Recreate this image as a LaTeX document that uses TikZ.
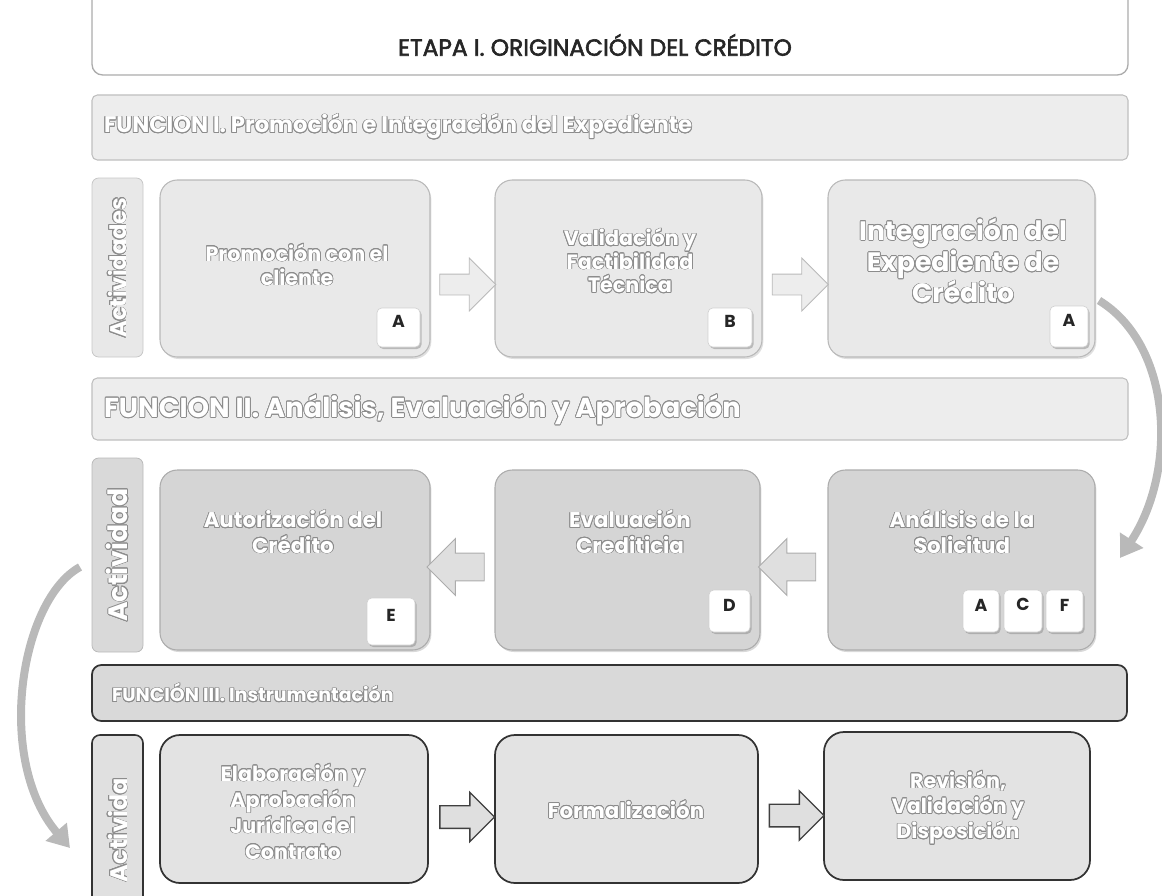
\documentclass[tikz,border=0pt]{standalone}
\usepackage{fontspec}
\setmainfont{Poppins}
\newfontfamily\titlefont{Poppins}[FakeBold=2.5]
\usepackage[copies]{contour}
\contourlength{0.55pt}
\contournumber{16}
\usetikzlibrary{shapes.arrows,shadows,calc,arrows.meta,fit}
\newcommand{\wt}[1]{\contour{black!45}{#1}}
\begin{document}
\begin{tikzpicture}[x=0.75pt,y=-0.75pt,
  every node/.style={inner sep=0pt, outer sep=0pt},
  titlebox/.style={draw=gray!65, line width=1pt, rounded corners=8pt, fill=white},
  bandlight/.style={draw=gray!50, line width=0.8pt, fill=gray!14, rounded corners=4pt},
  banddark/.style={draw=black!80, line width=1.3pt, fill=gray!30, rounded corners=7pt},
  rowone/.style={draw=gray!55, line width=0.8pt, fill=gray!17, rounded corners=13pt,
    drop shadow={shadow xshift=1pt, shadow yshift=-1.5pt, opacity=0.25}},
  rowtwo/.style={draw=gray!65, line width=0.8pt, fill=gray!33, rounded corners=13pt,
    drop shadow={shadow xshift=1pt, shadow yshift=-1.5pt, opacity=0.3}},
  rowthree/.style={draw=black!80, line width=1.3pt, fill=gray!22, rounded corners=15pt},
  labone/.style={draw=gray!45, line width=0.6pt, fill=gray!18, rounded corners=5pt},
  labtwo/.style={draw=gray!55, line width=0.6pt, fill=gray!30, rounded corners=5pt},
  labthree/.style={draw=black!80, line width=1.2pt, fill=gray!24, rounded corners=6pt},
  badge/.style={draw=gray!35, line width=0.5pt, fill=white, rounded corners=3.5pt,
    drop shadow={shadow xshift=1.2pt, shadow yshift=-1.5pt, opacity=0.45},
    font=\bfseries\fontsize{13}{13}\selectfont, text=black!85},
  wtext/.style={text=white, align=center},
  arrowone/.style={single arrow, draw=gray!55, fill=gray!14, line width=0.6pt,
    single arrow head extend=12pt, inner sep=7.5pt, minimum height=42pt},
  arrowtwo/.style={single arrow, draw=gray!65, fill=gray!25, line width=0.7pt,
    single arrow head extend=11pt, inner sep=10pt, minimum height=43pt, shape border rotate=180},
  arrowthree/.style={single arrow, draw=black!75, fill=gray!25, line width=1pt,
    single arrow head extend=10pt, inner sep=8pt, minimum height=41pt},
  curvearrow/.style={line width=6pt, draw=gray!55, -{Triangle[length=16pt,width=20pt]}}
]
\useasboundingbox (0,0) rectangle (1162,895);
\clip (0,0) rectangle (1162,895);

% title
\node[titlebox, fit={(92,-20) (1128,75)}] (tbox) {};
\node[font=\titlefont\fontsize{17.5}{17.5}\selectfont, text=black!85] (title) at (595,45) {ETAPA I. ORIGINACIÓN DEL CRÉDITO};

% ---------- Function I ----------
\node[bandlight, fit={(92,95) (1128,160)}] (band1) {};
\node[wtext, anchor=west, font=\bfseries\fontsize{17}{17}\selectfont] (band1t) at (104,127)
  {\wt{FUNCION I. Promoción e Integración del Expediente}};

\node[labone, fit={(92,178) (143,357)}] (lab1) {};
\node[wtext, rotate=90, font=\bfseries\fontsize{17}{17}\selectfont] (lab1t) at (lab1.center) {\wt{Actividades}};

\node[rowone, fit={(160,180) (430,357)}] (b1) {};
\node[wtext, font=\bfseries\fontsize{15.5}{18}\selectfont] (b1t) at (297,265) {\wt{Promoción con el}\\\wt{cliente}};
\node[badge, fit={(377,308) (420,347)}] (b1a) {A};

\node[rowone, fit={(495,180) (762,357)}] (b2) {};
\node[wtext, font=\bfseries\fontsize{15.5}{17.5}\selectfont] (b2t) at (630,261) {\wt{Validación y}\\\wt{Factibilidad}\\\wt{Técnica}};
\node[badge, fit={(708,308) (752,347)}] (b2a) {B};

\node[rowone, fit={(828,180) (1095,357)}] (b3) {};
\node[wtext, font=\bfseries\fontsize{20}{23.5}\selectfont] (b3t) at (963,261) {\wt{Integración del}\\\wt{Expediente de}\\\wt{Crédito}};
\node[badge, fit={(1050,306) (1088,347)}] (b3a) {A};

\node[arrowone] (a1) at ($(b1.east)!0.5!(b2.west)+(0,16)$) {};
\node[arrowone] (a2) at ($(b2.east)!0.5!(b3.west)+(0,16)$) {};

% ---------- Function II ----------
\node[bandlight, fit={(92,378) (1128,440)}] (band2) {};
\node[wtext, anchor=west, font=\bfseries\fontsize{20.5}{20.5}\selectfont] (band2t) at (104,410)
  {\wt{FUNCION II. Análisis, Evaluación y Aprobación}};

\node[labtwo, fit={(92,458) (143,652)}] (lab2) {};
\node[wtext, rotate=90, font=\bfseries\fontsize{20}{20}\selectfont] (lab2t) at (lab2.center) {\wt{Actividad}};

\node[rowtwo, fit={(160,470) (430,650)}] (b4) {};
\node[wtext, font=\bfseries\fontsize{16}{19}\selectfont] (b4t) at (293,532) {\wt{Autorización del}\\\wt{Crédito}};
\node[badge, fit={(367,598) (415,645)}] (b4a) {E};

\node[rowtwo, fit={(495,470) (760,650)}] (b5) {};
\node[wtext, font=\bfseries\fontsize{16}{19}\selectfont] (b5t) at (630,532) {\wt{Evaluación}\\\wt{Crediticia}};
\node[badge, fit={(709,590) (750,632)}] (b5a) {D};

\node[rowtwo, fit={(828,470) (1095,650)}] (b6) {};
\node[wtext, font=\bfseries\fontsize{16}{19}\selectfont] (b6t) at (962,532) {\wt{Análisis de la}\\\wt{Solicitud}};
\node[badge, fit={(963,590) (999,632)}] (b6a) {A};
\node[badge, fit={(1004,590) (1042,632)}] (b6c) {C};
\node[badge, fit={(1046,590) (1083,632)}] (b6f) {F};

\node[arrowtwo] (a3) at ($(b4.east)!0.5!(b5.west)+(0,7)$) {};
\node[arrowtwo] (a4) at ($(b5.east)!0.5!(b6.west)+(0,7)$) {};

% ---------- Function III ----------
\node[banddark, fit={(92,665) (1127,721)}] (band3) {};
\node[wtext, anchor=west, font=\bfseries\fontsize{14.2}{14.2}\selectfont] (band3t) at (112,693)
  {\wt{FUNCIÓN III. Instrumentación}};

\node[labthree, fit={(92,735) (143,905)}] (lab3) {};
\node[wtext, rotate=90, anchor=west, font=\bfseries\fontsize{18}{18}\selectfont] (lab3t) at (118,882) {\wt{Activida}};

\node[rowthree, fit={(160,735) (428,883)}] (b7) {};
\node[wtext, font=\bfseries\fontsize{15.5}{19.5}\selectfont] (b7t) at (293,812) {\wt{Elaboración y}\\\wt{Aprobación}\\\wt{Jurídica del}\\\wt{Contrato}};

\node[rowthree, fit={(495,735) (758,883)}] (b8) {};
\node[wtext, font=\bfseries\fontsize{16}{16}\selectfont] (b8t) at (626,810) {\wt{Formalización}};

\node[rowthree, fit={(824,732) (1090,880)}] (b9) {};
\node[wtext, font=\bfseries\fontsize{15.5}{19}\selectfont] (b9t) at (958,808) {\wt{Revisión,}\\\wt{Validación y}\\\wt{Disposición}};

\node[arrowthree] (a5) at ($(b7.east)!0.5!(b8.west)+(0,8)$) {};
\node[arrowthree] (a6) at ($(b8.east)!0.5!(b9.west)+(0,8)$) {};

% ---------- curved connectors ----------
\draw[curvearrow] ($(b3.east)+(4,32)$) .. controls (1172,345) and (1178,470) .. ($(b6.east)+(25,-2)$);
\draw[curvearrow] ($(lab2.west)+(-12,12)$) .. controls (20,600) and (-5,760) .. ($(lab3.west)+(-22,28)$);
\end{tikzpicture}
\end{document}
